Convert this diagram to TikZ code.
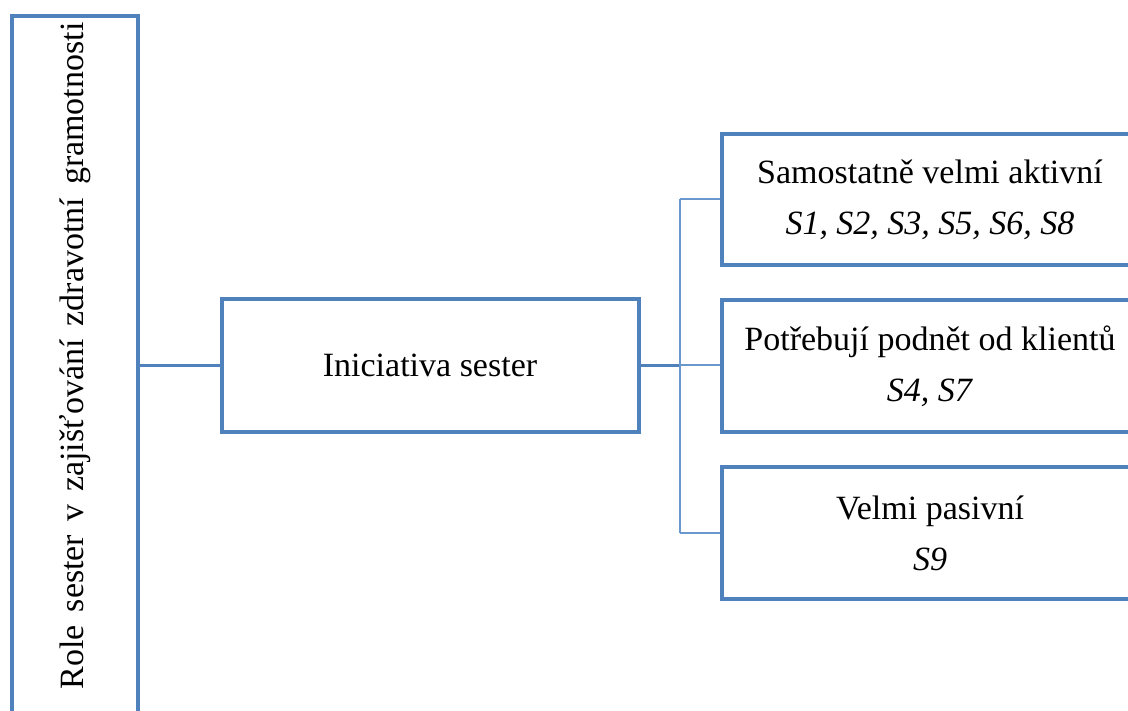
\documentclass[tikz,border=0pt]{standalone}
\usepackage{fontspec}
\setmainfont{Liberation Serif}
\definecolor{boxblue}{RGB}{79,129,189}
\definecolor{linkblue}{RGB}{104,152,206}
\newcommand{\widespaced}[1]{{\spaceskip=13pt\relax #1}}
\begin{document}
\begin{tikzpicture}[x=1pt,y=-1pt,
  box/.style={draw=boxblue, line width=4pt, fill=white, rectangle, inner sep=0pt,
    font=\fontsize{34}{51}\selectfont, align=center},
  titletext/.style={font=\fontsize{34}{41}\selectfont, inner sep=0pt},
  link/.style={draw=boxblue, line width=3pt},
  branch/.style={draw=linkblue, line width=2pt}]
\useasboundingbox (0,0) rectangle (1128,711);
\begin{scope}
\clip (0,0) rectangle (1128,711);
% root box with its vertical title
\node[box, minimum width=126pt, minimum height=704pt] (root) at (75,368) {};
\node[titletext, rotate=90] (rootlabel) at (75,356)
  {\widespaced{Role sester v zajišťování zdravotní gramotnosti}};
% middle box
\node[box, minimum width=417pt, minimum height=133pt] (ini) at (430,365.5) {Iniciativa sester};
% right boxes
\node[box, minimum width=416pt, minimum height=131pt] (b1) at (930,199.5)
  {Samostatně velmi aktivní\\\textit{S1, S2, S3, S5, S6, S8}};
\node[box, minimum width=416pt, minimum height=132pt] (b2) at (930,366)
  {Potřebují podnět od klientů\\\textit{S4, S7}};
\node[box, minimum width=416pt, minimum height=132pt] (b3) at (930,533)
  {Velmi pasivní\\\textit{S9}};
% connectors
\coordinate (hub) at (680,365.5);
\draw[link, line width=2.5pt] (root.east |- ini.west) -- (ini.west);
\draw[link] (ini.east) -- (hub);
\draw[branch] (hub) -- (b2.west |- hub);
\draw[branch] (hub |- b1.west) -- (hub |- b3.west);
\draw[branch] (hub |- b1.west) -- (b1.west);
\draw[branch] (hub |- b3.west) -- (b3.west);
\end{scope}
\end{tikzpicture}
\end{document}
